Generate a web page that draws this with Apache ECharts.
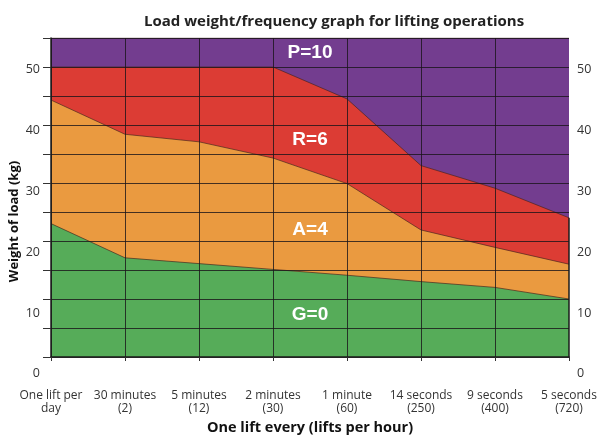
<!DOCTYPE html>
<html>
<head>
<meta charset="utf-8">
<script src="https://cdn.jsdelivr.net/npm/echarts@6/dist/echarts.min.js"></script>
<style>html,body{margin:0;padding:0;background:#fff;}#c{width:597px;height:437px;}</style>
</head>
<body>
<div id="c"></div>
<script>
const categories = ['One lift per\nday', '30 minutes\n(2)', '5 minutes\n(12)', '2 minutes\n(30)', '1 minute\n(60)', '14 seconds\n(250)', '9 seconds\n(400)', '5 seconds\n(720)'];
const gValues = [23.0, 17.1, 16.1, 15.1, 14.1, 13.0, 12.0, 10.0];
const aValues = [44.3, 38.4, 37.1, 34.3, 29.9, 21.9, 18.9, 16.0];
const rValues = [50, 50, 50, 50, 44.5, 33.0, 29.1, 24.0];
const pValues = [55, 55, 55, 55, 55, 55, 55, 55];
const zoneNames = ['P=10', 'R=6', 'A=4', 'G=0'];
const zonePos = [[3.5, 52.4], [3.5, 37.4], [3.5, 21.9], [3.5, 7.2]];
const yTickLabels = [0, 10, 20, 30, 40, 50];

const FONT = '"Open Sans", sans-serif';
const gridCol = 'rgba(25,20,25,0.8)';
const edgeCol = 'rgba(70,35,30,0.85)';

function area(data, color, z) {
  return {
    type: 'line', xAxisIndex: 0, yAxisIndex: 0, data: data,
    symbol: 'none', z: z,
    lineStyle: { color: edgeCol, width: 0.8 },
    areaStyle: { color: color, opacity: 1, origin: 'start' }
  };
}

function tickLabelSeries(xPos, side, dist) {
  return {
    type: 'scatter', xAxisIndex: 2, yAxisIndex: 1, symbolSize: 0, z: 10, silent: true,
    itemStyle: { opacity: 1 },
    data: yTickLabels.map(v => [xPos, v]),
    label: {
      show: true, position: side, distance: dist,
      formatter: p => String(p.value[1]),
      fontFamily: FONT, fontSize: 12.5, color: '#333'
    }
  };
}

const chart = echarts.init(document.getElementById('c'), null, { renderer: 'canvas' });
chart.setOption({
  animation: false,
  backgroundColor: '#ffffff',
  title: {
    text: 'Load weight/frequency graph for lifting operations',
    left: 139, top: 9,
    textStyle: { fontFamily: FONT, fontWeight: 'bold', fontSize: 15, color: '#222' }
  },
  grid: [
    { left: 51, right: 28, top: 38, bottom: 80, outerBoundsMode: 'none' },
    { left: 51, right: 28, top: 63, bottom: 57, outerBoundsMode: 'none' }
  ],
  xAxis: [
    {
      type: 'category', gridIndex: 0, data: categories, boundaryGap: false, z: 5,
      axisLine: { show: true, lineStyle: { color: '#1a1a1a', width: 1.5 } },
      axisTick: { show: true, length: 4, lineStyle: { color: '#333' } },
      axisLabel: { margin: 32, fontFamily: FONT, fontSize: 12, color: '#333', lineHeight: 13, interval: 0 },
      splitLine: { show: true, showMaxLine: false, lineStyle: { color: gridCol, width: 1 } },
      name: 'One lift every (lifts per hour)', nameLocation: 'middle', nameGap: 62,
      nameTextStyle: { fontFamily: FONT, fontWeight: 'bold', fontSize: 14.5, color: '#111' }
    },
    { type: 'value', gridIndex: 0, min: 0, max: 7, show: false },
    { type: 'value', gridIndex: 1, min: 0, max: 7, show: false }
  ],
  yAxis: [
    {
      type: 'value', gridIndex: 0, min: 0, max: 55, interval: 5, z: 5,
      axisLine: { show: true, lineStyle: { color: '#1a1a1a', width: 1.5 } },
      axisTick: { show: true, length: 8, lineStyle: { color: '#333' } },
      axisLabel: { show: false },
      splitLine: { show: true, lineStyle: { color: gridCol, width: 1 } }
    },
    {
      type: 'value', gridIndex: 1, position: 'left', min: -1, max: 51,
      axisLine: { show: false }, axisTick: { show: false }, splitLine: { show: false },
      axisLabel: { show: false },
      name: 'Weight of load (kg)', nameLocation: 'middle', nameGap: 30,
      nameTextStyle: { fontFamily: FONT, fontWeight: 'bold', fontSize: 13, color: '#111' }
    }
  ],
  series: [
    area(pValues, '#733d8f', 1),
    Object.assign(area(rValues, '#dc3c34', 1.1), {
      markLine: {
        silent: true, symbol: 'none', label: { show: false },
        lineStyle: { color: '#1a1a1a', width: 1.5, type: 'solid' },
        data: [[{ coord: [7, 0] }, { coord: [7, rValues[7]] }]]
      }
    }),
    area(aValues, '#ea9a40', 1.2),
    area(gValues, '#56ac59', 1.3),
    {
      type: 'scatter', xAxisIndex: 1, yAxisIndex: 0, z: 10, symbolSize: 0, silent: true,
      itemStyle: { opacity: 1 },
      data: zonePos.map((p, i) => ({ value: p, name: zoneNames[i] })),
      label: {
        show: true, position: 'inside', formatter: p => p.name,
        color: '#ffffff', fontFamily: '"Liberation Sans", Arial, sans-serif',
        fontWeight: 'bold', fontSize: 19
      }
    },
    tickLabelSeries(0, 'left', 11),
    tickLabelSeries(7, 'right', 8)
  ]
});
</script>
</body>
</html>
